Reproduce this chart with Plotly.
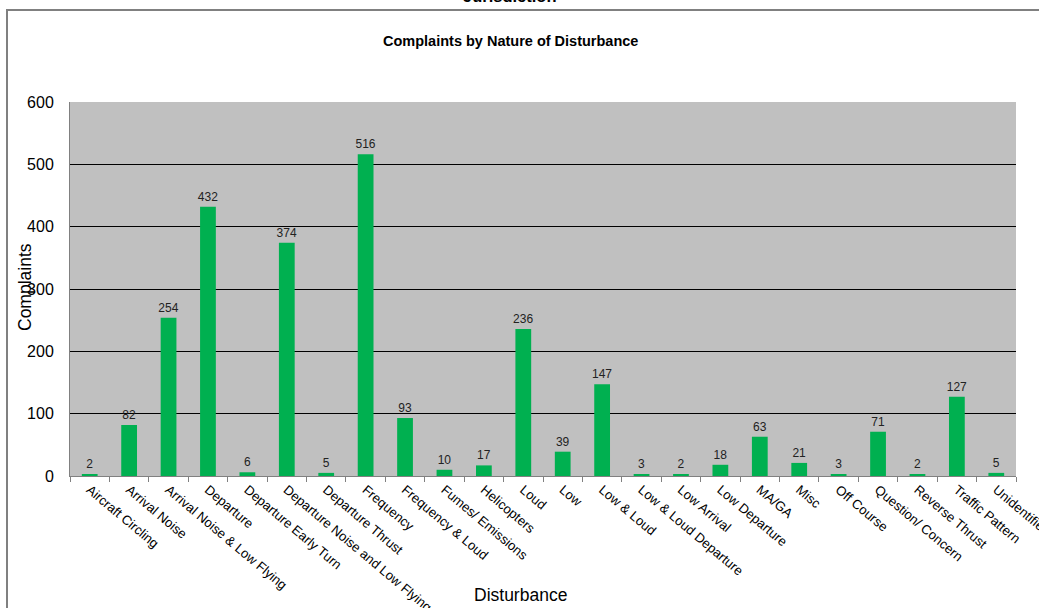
import plotly.graph_objects as go

categories = ["Aircraft Circling", "Arrival Noise", "Arrival Noise & Low Flying", "Departure",
              "Departure Early Turn", "Departure Noise and Low Flying", "Departure Thrust",
              "Frequency", "Frequency & Loud", "Fumes/ Emissions", "Helicopters", "Loud", "Low",
              "Low & Loud", "Low & Loud Departure", "Low Arrival", "Low Departure", "MA/GA",
              "Misc", "Off Course", "Question/ Concern", "Reverse Thrust", "Traffic Pattern",
              "Unidentified"]
complaints = [2, 82, 254, 432, 6, 374, 5, 516, 93, 10, 17, 236, 39, 147, 3, 2, 18, 63, 21, 3,
              71, 2, 127, 5]
y_ticks = [0, 100, 200, 300, 400, 500, 600]

W, H = 1039, 608
L, R, T, B = 70, 23, 102, 132
pw, ph = W - L - R, H - T - B


def px(x):
    return (x - L) / pw


def py(y):
    return (H - B - y) / ph


fig = go.Figure()
fig.add_trace(go.Bar(
    x=categories, y=complaints,
    marker=dict(color="#00b050", line=dict(width=0)),
    text=[str(v) for v in complaints], textposition="outside",
    textfont=dict(size=12, color="#222222"),
    constraintext="none",
    cliponaxis=False,
))

fig.update_layout(
    width=W, height=H,
    margin=dict(l=L, r=R, t=T, b=B),
    paper_bgcolor="white", plot_bgcolor="#c0c0c0",
    font=dict(family="Liberation Sans, Arial, sans-serif", color="#000000"),
    bargap=0.6,
    showlegend=False,
    xaxis=dict(
        tickangle=40, tickfont=dict(size=13.2), tickson="boundaries",
        ticks="outside", ticklen=5, tickcolor="#808080",
        showline=True, linecolor="#808080", linewidth=1,
        showgrid=False, automargin=False,
    ),
    yaxis=dict(
        range=[0, 600], tickvals=y_ticks, tickfont=dict(size=16),
        showgrid=True, gridcolor="#000000", gridwidth=1,
        showline=True, linecolor="#808080", linewidth=1,
        ticks="", zeroline=False, automargin=False, ticklabelstandoff=12,
    ),
    shapes=[
        dict(type="rect", xref="paper", yref="paper",
             x0=px(7), x1=px(1060), y0=py(10), y1=py(640),
             line=dict(color="#808080", width=2), fillcolor="rgba(0,0,0,0)", layer="below"),
    ],
    annotations=[
        dict(text="<b>Jurisdiction</b>", xref="paper", yref="paper", x=px(510), y=py(7),
             xanchor="center", yanchor="bottom", showarrow=False,
             font=dict(size=16.5)),
        dict(text="<b>Complaints by Nature of Disturbance</b>", xref="paper", yref="paper",
             x=px(510), y=py(41), xanchor="center", yanchor="middle", showarrow=False,
             font=dict(size=14.5)),
        dict(text="Complaints", xref="paper", yref="paper", x=px(25), y=py(287),
             xanchor="center", yanchor="middle", showarrow=False, textangle=-90,
             font=dict(size=17.5)),
        dict(text="Disturbance", xref="paper", yref="paper", x=px(520), y=py(595),
             xanchor="center", yanchor="middle", showarrow=False,
             font=dict(size=17.5)),
    ],
)

fig.write_html("out.html", config={"displayModeBar": False},
               post_script="document.body.style.margin='0';")
